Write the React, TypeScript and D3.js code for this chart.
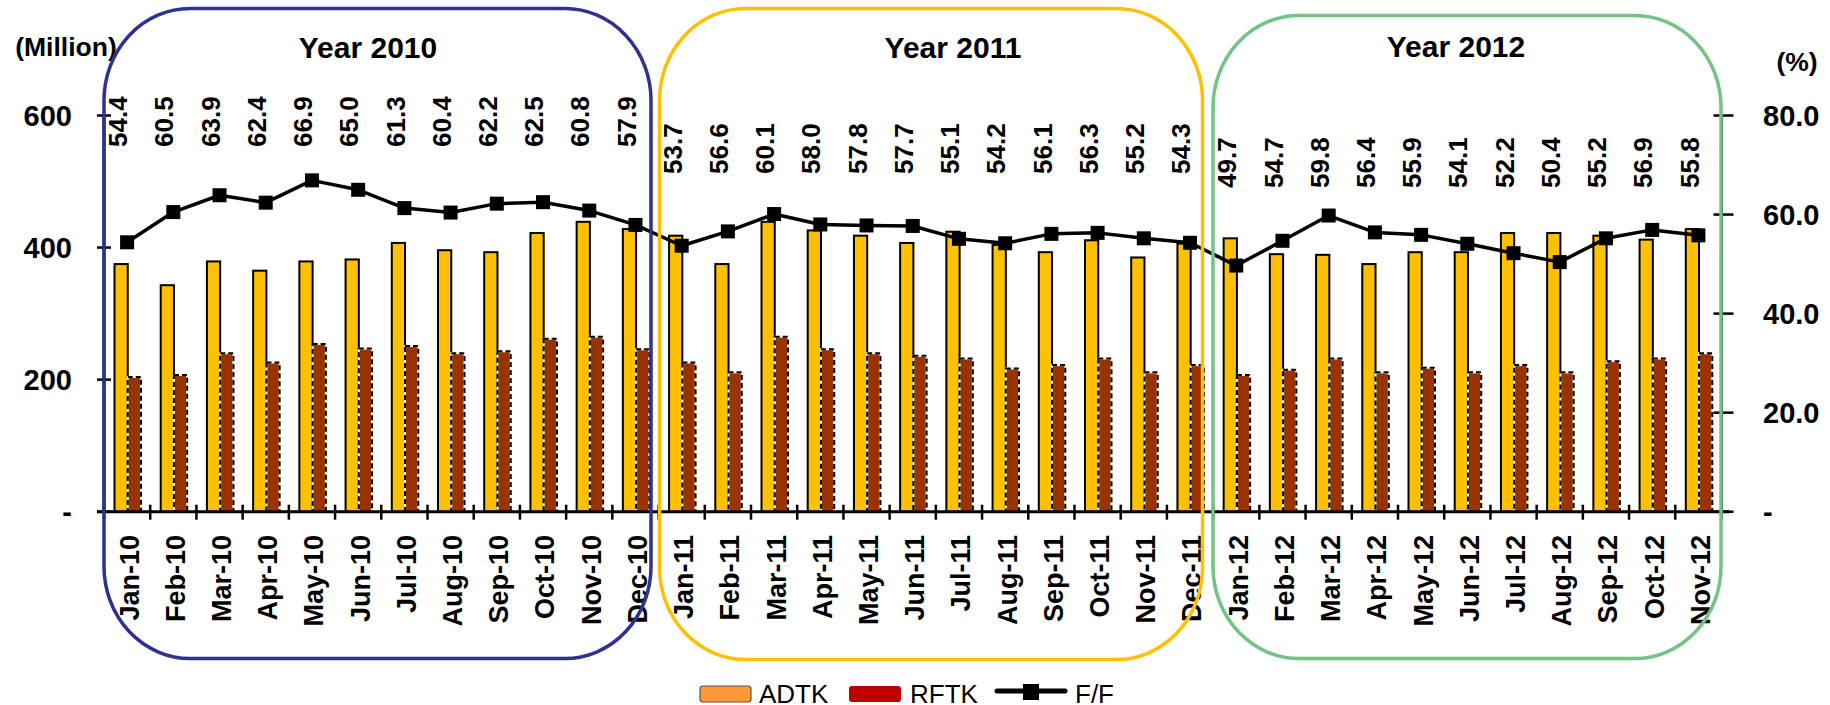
import React from "react";
import * as d3 from "d3";

// Monthly traffic: ADTK and RFTK in millions, F/F (RFTK / ADTK) in percent
const months = [
  "Jan-10", "Feb-10", "Mar-10", "Apr-10", "May-10", "Jun-10", "Jul-10", "Aug-10", "Sep-10", "Oct-10", "Nov-10", "Dec-10",
  "Jan-11", "Feb-11", "Mar-11", "Apr-11", "May-11", "Jun-11", "Jul-11", "Aug-11", "Sep-11", "Oct-11", "Nov-11", "Dec-11",
  "Jan-12", "Feb-12", "Mar-12", "Apr-12", "May-12", "Jun-12", "Jul-12", "Aug-12", "Sep-12", "Oct-12", "Nov-12",
];

const adtk = [
  375, 343, 379, 365, 379, 382, 407, 396, 393, 422, 439, 428,
  418, 375, 439, 426, 418, 407, 424, 404, 393, 411, 385, 406,
  414, 390, 389, 375, 393, 393, 422, 422, 418, 412, 428,
];

const rftk = [
  204, 207, 240, 226, 254, 247, 251, 240, 243, 262, 265, 246,
  226, 211, 265, 246, 240, 236, 232, 217, 222, 232, 211, 222,
  207, 215, 232, 211, 218, 211, 222, 211, 228, 232, 240,
];

const ff = [
  54.4, 60.5, 63.9, 62.4, 66.9, 65.0, 61.3, 60.4, 62.2, 62.5, 60.8, 57.9,
  53.7, 56.6, 60.1, 58.0, 57.8, 57.7, 55.1, 54.2, 56.1, 56.3, 55.2, 54.3,
  49.7, 54.7, 59.8, 56.4, 55.9, 54.1, 52.2, 50.4, 55.2, 56.9, 55.8,
];

const leftTicks = [0, 200, 400, 600];
const rightTicks = [0, 20, 40, 60, 80];
const years = ["Year 2010", "Year 2011", "Year 2012"];

const FONT = "'Liberation Sans', Arial, Helvetica, sans-serif";
const W = 1830;
const H = 705;

// plot frame
const PX0 = 104;
const PX1 = 1721.5;
const PY0 = 511.7;
const PY1 = 115.5;

// year panels (rounded frames) and where each year's value labels sit
const panels = [
  { x: 104, y: 8.5, w: 547, h: 650, color: "#2E3192", titleX: 368, titleY: 58, labelBase: 147 },
  { x: 659.5, y: 8.5, w: 543, h: 651, color: "#FFC000", titleX: 953, titleY: 58, labelBase: 174 },
  { x: 1213, y: 15.5, w: 508, h: 643, color: "#72C386", titleX: 1456, titleY: 57, labelBase: 188 },
];

export default function App() {
  const x = d3.scaleBand<string>().domain(months).range([PX0, PX1]).paddingInner(0).paddingOuter(0);
  const bw = x.bandwidth();
  const inner = d3.scaleBand<string>().domain(["ADTK", "RFTK"]).range([10.5, 37]);
  const yL = d3.scaleLinear().domain([0, 600]).range([PY0, PY1]);
  const yR = d3.scaleLinear().domain([0, 80]).range([PY0, PY1]);
  const fmtR = d3.format(".1f");

  const cx = (m: string) => (x(m) as number) + bw / 2;
  const line = d3
    .line<number>()
    .x((_, i) => cx(months[i]))
    .y((d) => yR(d));

  const yearOf = (i: number) => Math.floor(i / 12);

  return (
    <div style={{ position: "absolute", left: 0, top: 0 }}>
      <svg width={W} height={H} viewBox={`0 0 ${W} ${H}`} style={{ display: "block", fontFamily: FONT }}>
        <rect x={0} y={0} width={W} height={H} fill="#ffffff" />

        {/* bars */}
        {months.map((m, i) => {
          const bx = x(m) as number;
          return (
            <g key={m}>
              <rect
                x={bx + (inner("ADTK") as number)}
                y={yL(adtk[i])}
                width={inner.bandwidth()}
                height={PY0 - yL(adtk[i])}
                fill="#FFC000"
                stroke="#000"
                strokeWidth={2}
              />
              <rect
                x={bx + (inner("RFTK") as number)}
                y={yL(rftk[i])}
                width={inner.bandwidth()}
                height={PY0 - yL(rftk[i])}
                fill="#993300"
                stroke="#ffffff"
                strokeWidth={2}
              />
              <rect
                x={bx + (inner("RFTK") as number)}
                y={yL(rftk[i])}
                width={inner.bandwidth()}
                height={PY0 - yL(rftk[i])}
                fill="none"
                stroke="#000"
                strokeWidth={2}
                strokeDasharray="5 3"
              />
            </g>
          );
        })}

        {/* axes */}
        <line x1={PX0} x2={PX0} y1={PY1} y2={PY0} stroke="#000" strokeWidth={3} />
        <line x1={PX1} x2={PX1} y1={PY1} y2={PY0} stroke="#000" strokeWidth={3} />
        <line x1={97} x2={PX1 + 8} y1={PY0} y2={PY0} stroke="#000" strokeWidth={3} />
        {d3.range(months.length + 1).map((i) => {
          const tx = PX0 + i * bw;
          return <line key={`xt${i}`} x1={tx} x2={tx} y1={PY0 - 7} y2={PY0 + 8} stroke="#000" strokeWidth={2.5} />;
        })}
        {leftTicks.map((t) => (
          <g key={`lt${t}`}>
            <line x1={97} x2={111} y1={yL(t)} y2={yL(t)} stroke="#000" strokeWidth={2.5} />
            <text x={72} y={yL(t)} dy="0.35em" textAnchor="end" fontSize={29} fontWeight="bold" fill="#000">
              {t === 0 ? "-" : String(t)}
            </text>
          </g>
        ))}
        {rightTicks.map((t) => (
          <g key={`rt${t}`}>
            <line x1={PX1 - 8} x2={PX1 + 12} y1={yR(t)} y2={yR(t)} stroke="#000" strokeWidth={2.5} />
            <text x={1763} y={yR(t)} dy="0.35em" textAnchor="start" fontSize={29} fontWeight="bold" fill="#000">
              {t === 0 ? "-" : fmtR(t)}
            </text>
          </g>
        ))}
        <text x={66} y={47} dy="0.35em" textAnchor="middle" fontSize={26.5} fontWeight="bold" fill="#000">
          (Million)
        </text>
        <text x={1797} y={62} dy="0.35em" textAnchor="middle" fontSize={26.5} fontWeight="bold" fill="#000">
          (%)
        </text>

        {/* month labels */}
        {months.map((m) => (
          <text
            key={`ml${m}`}
            transform={`translate(${cx(m) + 2},535) rotate(-90)`}
            dy="0.35em"
            textAnchor="end"
            fontSize={27}
            fontWeight="bold"
            fill="#000"
          >
            {m}
          </text>
        ))}

        {/* F/F line and markers */}
        <path d={line(ff) ?? ""} fill="none" stroke="#000" strokeWidth={3.5} strokeLinejoin="round" />
        {ff.map((v, i) => (
          <rect key={`mk${i}`} x={cx(months[i]) - 7} y={yR(v) - 7} width={14} height={14} fill="#000" />
        ))}

        {/* F/F value labels */}
        {ff.map((v, i) => (
          <text
            key={`fl${i}`}
            transform={`translate(${cx(months[i]) - 9},${panels[yearOf(i)].labelBase}) rotate(-90)`}
            dy="0.35em"
            textAnchor="start"
            fontSize={26}
            fontWeight="bold"
            fill="#000"
          >
            {fmtR(v)}
          </text>
        ))}

        {/* year panels */}
        {panels.map((p, k) => (
          <g key={`pn${k}`}>
            <rect x={p.x} y={p.y} width={p.w} height={p.h} rx={86} ry={92} fill="none" stroke={p.color} strokeWidth={3.5} />
            <text x={p.titleX} y={p.titleY} textAnchor="middle" fontSize={30} fontWeight="bold" fill="#000">
              {years[k]}
            </text>
          </g>
        ))}

        {/* legend */}
        <rect x={700} y={686} width={51} height={16} rx={3} fill="#FF9933" stroke="#555" strokeWidth={1.2} />
        <text x={759} y={703} fontSize={26} fill="#000">ADTK</text>
        <rect x={849} y={686} width={52} height={16} rx={3} fill="#C00000" />
        <text x={910} y={703} fontSize={26} fill="#000">RFTK</text>
        <line x1={997} x2={1065} y1={691} y2={691} stroke="#000" strokeWidth={5} strokeLinecap="round" />
        <rect x={1023} y={684} width={16} height={16} fill="#000" />
        <text x={1075} y={703} fontSize={26} fill="#000">F/F</text>
      </svg>
    </div>
  );
}
